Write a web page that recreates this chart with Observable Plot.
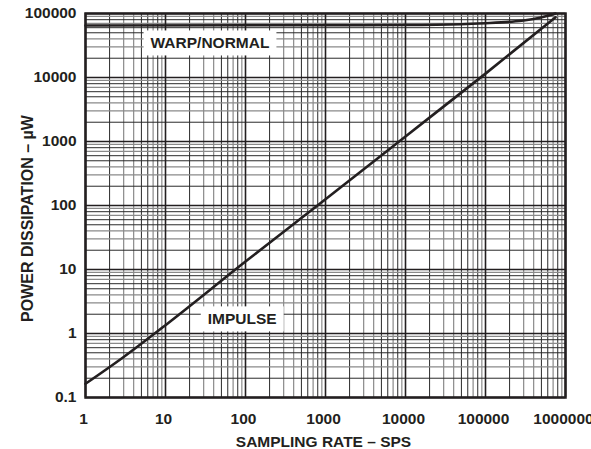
<!DOCTYPE html>
<html><head><meta charset="utf-8">
<script src="https://cdn.jsdelivr.net/npm/d3@7"></script>
<script src="https://cdn.jsdelivr.net/npm/@observablehq/plot@0.6"></script>
<style>
body{margin:0;background:#fff;}
#chart{width:591px;height:449px;}
</style></head><body><div id="chart"></div>
<script>
// Data
const impulseRate = [1, 3, 10, 100, 1000, 10000, 100000, 750000];
const impulsePower = [0.164, 0.43, 1.35, 13.3, 125, 1200, 11500, 87000];
const warpRate = [1, 1000, 10000, 50000, 100000, 200000, 300000, 400000, 600000, 750000];
const warpPower = [65000, 65500, 66000, 68000, 70500, 74000, 77500, 82000, 92000, 100000];

const xTicks = [1, 10, 100, 1000, 10000, 100000, 1000000];
const xTickLabels = ["1", "10", "100", "1000", "10000", "100000", "1000000"];
const yTicks = [0.1, 1, 10, 100, 1000, 10000, 100000];
const yTickLabels = ["0.1", "1", "10", "100", "1000", "10000", "100000"];
const minorDarkMult = [2, 5, 6, 8];
const minorLightMult = [3, 4, 7, 9];

const curveLabels = ["WARP/NORMAL", "IMPULSE"];
const curveLabelX = [36, 91];
const curveLabelY = [34000, 1.66];

const xTitle = "SAMPLING RATE – SPS";
const yTitle = "POWER DISSIPATION – µW";

const ink = "#231f20";
const minor = (ticks, mult) => ticks.slice(0, -1).flatMap(d => mult.map(m => d * m));

const impulse = impulseRate.map((r, i) => ({r, p: impulsePower[i]}));
const warp = warpRate.map((r, i) => ({r, p: warpPower[i]}));
const labelData = curveLabels.map((t, i) => ({t, x: curveLabelX[i], y: curveLabelY[i]}));

const plot = Plot.plot({
  width: 591, height: 449,
  marginLeft: 85, marginRight: 26, marginTop: 13, marginBottom: 52,
  x: {type: "log", domain: [1, 1000000]},
  y: {type: "log", domain: [0.1, 100000]},
  style: {fontFamily: "'Liberation Sans', Arial, sans-serif", fontSize: "15.5px", fontWeight: "bold", color: ink, background: "#fff", overflow: "visible"},
  marks: [
    Plot.ruleX(minor(xTicks, minorLightMult), {stroke: "#8a8a8a", strokeWidth: 1.2}),
    Plot.ruleX(minor(xTicks, minorDarkMult), {stroke: "#2a2a2a", strokeWidth: 1}),
    Plot.ruleY(minor(yTicks, minorLightMult), {stroke: "#8a8a8a", strokeWidth: 1.2}),
    Plot.ruleY(minor(yTicks, minorDarkMult), {stroke: "#2a2a2a", strokeWidth: 1}),
    Plot.ruleX(xTicks, {stroke: ink, strokeWidth: 1.6}),
    Plot.ruleY(yTicks, {stroke: ink, strokeWidth: 1.6}),
    Plot.line(warp, {x: "r", y: "p", stroke: ink, strokeWidth: 2.6, curve: "monotone-x"}),
    Plot.line(impulse, {x: "r", y: "p", stroke: ink, strokeWidth: 2.6, curve: "monotone-x"}),
    Plot.text(labelData, {x: "x", y: "y", text: "t", fill: ink, fontSize: 15.5, fontWeight: "bold"}),
    Plot.frame({stroke: ink, strokeWidth: 2.5}),
    Plot.axisX(xTicks, {tickSize: 0, tickPadding: 15, dx: -2, tickFormat: (d) => xTickLabels[xTicks.indexOf(d)], label: null, fontSize: 15.5, fontWeight: "bold", fill: ink}),
    Plot.axisY(yTicks, {tickSize: 0, tickPadding: 9, tickFormat: (d) => yTickLabels[yTicks.indexOf(d)], label: null, fontSize: 15.5, fontWeight: "bold", fill: ink}),
    Plot.text([xTitle], {frameAnchor: "bottom", lineAnchor: "bottom", dy: 49, dx: -2, fontSize: 15.5, fontWeight: "bold", fill: ink}),
    Plot.text([yTitle], {frameAnchor: "left", textAnchor: "middle", lineAnchor: "bottom", rotate: -90, dx: -53, dy: 13, fontSize: 16, fontWeight: "bold", fill: ink})
  ]
});
document.getElementById("chart").appendChild(plot);

// white boxes behind the curve labels
d3.select(plot).selectAll("text").each(function() {
  if (!curveLabels.includes(this.textContent)) return;
  const b = this.getBBox();
  const r = document.createElementNS("http://www.w3.org/2000/svg", "rect");
  r.setAttribute("x", b.x - 7);
  r.setAttribute("y", b.y - 4);
  r.setAttribute("width", b.width + 14);
  r.setAttribute("height", b.height + 8);
  r.setAttribute("fill", "#fff");
  if (this.getAttribute("transform")) r.setAttribute("transform", this.getAttribute("transform"));
  this.parentNode.insertBefore(r, this);
});
</script></body></html>
